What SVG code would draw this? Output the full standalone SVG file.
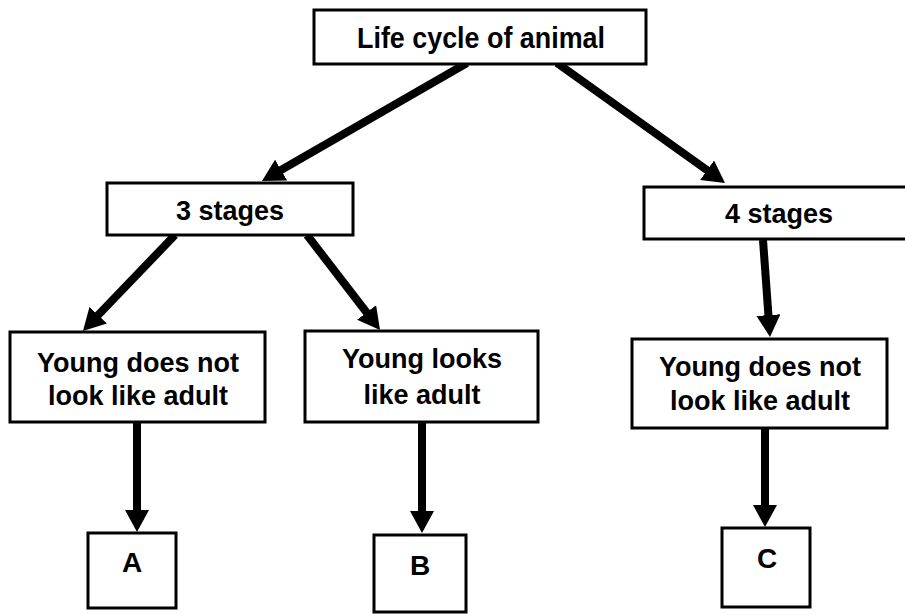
<svg xmlns="http://www.w3.org/2000/svg" width="905" height="615" viewBox="0 0 905 615">
<style>
.box{fill:#fff;stroke:#000;stroke-width:3}
.t{font-family:"Liberation Sans",Arial,Helvetica,sans-serif;font-weight:bold;font-size:27px;fill:#000;text-anchor:middle}
.big{font-size:29px}
.letter{font-size:28px}
.conn{stroke:#000;stroke-width:8;fill:none;marker-end:url(#ah)}
</style>
<defs>
<marker id="ah" markerUnits="userSpaceOnUse" markerWidth="22" markerHeight="24" refX="1" refY="12" orient="auto" viewBox="0 0 22 24">
<path d="M0,0 L22,12 L0,24 z" fill="#000"/>
</marker>
</defs>
<rect width="905" height="615" fill="#fff"/>
<g id="connectors">
<line class="conn" x1="467" y1="63" x2="280.2" y2="170.5"/>
<line class="conn" x1="557" y1="63" x2="707.9" y2="170.8"/>
<line class="conn" x1="175" y1="235" x2="97.5" y2="315.8"/>
<line class="conn" x1="307" y1="235" x2="367.2" y2="313.3"/>
<line class="conn" x1="763" y1="240" x2="768.5" y2="316.1"/>
<line class="conn" x1="137" y1="423" x2="137" y2="511"/>
<line class="conn" x1="422" y1="422" x2="422" y2="512"/>
<line class="conn" x1="765" y1="428" x2="765" y2="506"/>
</g>
<g id="life-cycle">
<rect class="box" x="314" y="10" width="332" height="54"/>
<text class="t big" x="481" y="48" textLength="248" lengthAdjust="spacingAndGlyphs">Life cycle of animal</text>
</g>
<g id="three-stages">
<rect class="box" x="107" y="183" width="246" height="52"/>
<text class="t" x="230" y="220">3 stages</text>
</g>
<g id="four-stages">
<rect class="box" x="644" y="187" width="270" height="52"/>
<text class="t" x="779" y="223">4 stages</text>
</g>
<g id="young-not-like-left">
<rect class="box" x="10" y="332" width="255" height="90"/>
<text class="t" x="138" y="372">Young does not</text>
<text class="t" x="138" y="405">look like adult</text>
</g>
<g id="young-looks-like">
<rect class="box" x="305" y="331" width="233" height="91"/>
<text class="t" x="422" y="368">Young looks</text>
<text class="t" x="422" y="404">like adult</text>
</g>
<g id="young-not-like-right">
<rect class="box" x="632" y="339" width="255" height="89"/>
<text class="t" x="760" y="376">Young does not</text>
<text class="t" x="760" y="410">look like adult</text>
</g>
<g id="A">
<rect class="box" x="88" y="533" width="88" height="75"/>
<text class="t letter" x="132" y="572">A</text>
</g>
<g id="B">
<rect class="box" x="374" y="535" width="92" height="77"/>
<text class="t letter" x="420" y="575">B</text>
</g>
<g id="C">
<rect class="box" x="722" y="528" width="88" height="79"/>
<text class="t letter" x="767" y="568">C</text>
</g>
</svg>
